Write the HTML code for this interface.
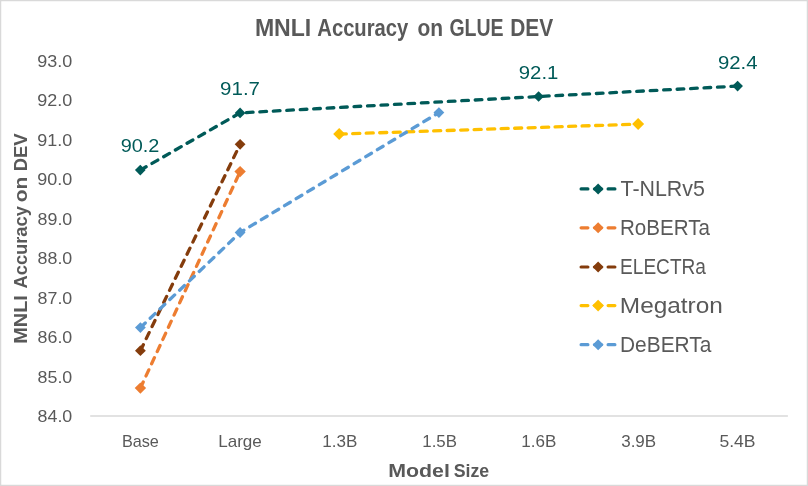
<!DOCTYPE html>
<html lang="en"><head><meta charset="utf-8"><title>MNLI Accuracy on GLUE DEV</title>
<style>
html,body{margin:0;padding:0;background:#fff;}
body{width:808px;height:486px;overflow:hidden;}
svg{display:block;}
text{font-family:"Liberation Sans",sans-serif;fill:#595959;}
.ax{font-size:17px;}
.tt{font-size:24.2px;font-weight:bold;}
.at{font-size:18.8px;font-weight:bold;}
.dl{font-size:19.2px;fill:#005A58;}
.lg{font-size:22.6px;}
</style></head><body>
<svg width="808" height="486" viewBox="0 0 808 486">
<rect x="0" y="0" width="808" height="486" fill="#fff"/>
<rect x="0.25" y="0.25" width="807.5" height="485.5" fill="none" stroke="#d9d9d9" stroke-width="2"/>
<line x1="90.2" y1="416.0" x2="787.9" y2="416.0" stroke="#d9d9d9" stroke-width="1.4"/>
<text x="254.9" y="35.7" class="tt" textLength="56.4" lengthAdjust="spacingAndGlyphs">MNLI</text>
<text x="317.3" y="35.7" class="tt" textLength="91.0" lengthAdjust="spacingAndGlyphs">Accuracy</text>
<text x="417.4" y="35.7" class="tt" textLength="25.6" lengthAdjust="spacingAndGlyphs">on</text>
<text x="449.4" y="35.7" class="tt" textLength="54.2" lengthAdjust="spacingAndGlyphs">GLUE</text>
<text x="510.2" y="35.7" class="tt" textLength="43.0" lengthAdjust="spacingAndGlyphs">DEV</text>
<text x="37.6" y="422.0" class="ax" textLength="34.7" lengthAdjust="spacingAndGlyphs">84.0</text>
<text x="37.6" y="382.5" class="ax" textLength="34.7" lengthAdjust="spacingAndGlyphs">85.0</text>
<text x="37.6" y="343.0" class="ax" textLength="34.7" lengthAdjust="spacingAndGlyphs">86.0</text>
<text x="37.6" y="303.5" class="ax" textLength="34.7" lengthAdjust="spacingAndGlyphs">87.0</text>
<text x="37.6" y="264.0" class="ax" textLength="34.7" lengthAdjust="spacingAndGlyphs">88.0</text>
<text x="37.6" y="224.5" class="ax" textLength="34.7" lengthAdjust="spacingAndGlyphs">89.0</text>
<text x="37.3" y="185.0" class="ax" textLength="35.0" lengthAdjust="spacingAndGlyphs">90.0</text>
<text x="37.3" y="145.5" class="ax" textLength="35.0" lengthAdjust="spacingAndGlyphs">91.0</text>
<text x="37.3" y="106.0" class="ax" textLength="35.0" lengthAdjust="spacingAndGlyphs">92.0</text>
<text x="37.3" y="66.5" class="ax" textLength="35.0" lengthAdjust="spacingAndGlyphs">93.0</text>
<text x="121.9" y="447.4" class="ax" textLength="37.0" lengthAdjust="spacingAndGlyphs">Base</text>
<text x="218.2" y="447.4" class="ax" textLength="43.6" lengthAdjust="spacingAndGlyphs">Large</text>
<text x="322.3" y="447.4" class="ax" textLength="35.1" lengthAdjust="spacingAndGlyphs">1.3B</text>
<text x="422.3" y="447.4" class="ax" textLength="34.7" lengthAdjust="spacingAndGlyphs">1.5B</text>
<text x="521.2" y="447.4" class="ax" textLength="35.1" lengthAdjust="spacingAndGlyphs">1.6B</text>
<text x="621.2" y="447.4" class="ax" textLength="35.0" lengthAdjust="spacingAndGlyphs">3.9B</text>
<text x="719.4" y="447.4" class="ax" textLength="36.1" lengthAdjust="spacingAndGlyphs">5.4B</text>
<text x="388.2" y="476.8" class="at" textLength="61.7" lengthAdjust="spacingAndGlyphs">Model</text>
<text x="453.7" y="476.8" class="at" textLength="35.5" lengthAdjust="spacingAndGlyphs">Size</text>
<text x="120.7" y="152.0" class="dl" textLength="38.7" lengthAdjust="spacingAndGlyphs">90.2</text>
<text x="220.1" y="95.1" class="dl" textLength="39.9" lengthAdjust="spacingAndGlyphs">91.7</text>
<text x="518.8" y="79.1" class="dl" textLength="39.6" lengthAdjust="spacingAndGlyphs">92.1</text>
<text x="718.0" y="68.9" class="dl" textLength="39.6" lengthAdjust="spacingAndGlyphs">92.4</text>
<text x="620.5" y="196.1" class="lg" textLength="84.4" lengthAdjust="spacingAndGlyphs">T-NLRv5</text>
<text x="620.0" y="235.0" class="lg" textLength="89.9" lengthAdjust="spacingAndGlyphs">RoBERTa</text>
<text x="620.1" y="274.2" class="lg" textLength="85.8" lengthAdjust="spacingAndGlyphs">ELECTRa</text>
<text x="619.8" y="312.8" class="lg" textLength="103.1" lengthAdjust="spacingAndGlyphs">Megatron</text>
<text x="620.0" y="351.8" class="lg" textLength="91.4" lengthAdjust="spacingAndGlyphs">DeBERTa</text>
<g transform="translate(27.0 342.4) rotate(-90)"><text x="-1.4" y="0" class="at" textLength="48.7" lengthAdjust="spacingAndGlyphs">MNLI</text></g>
<g transform="translate(27.0 342.4) rotate(-90)"><text x="53.9" y="0" class="at" textLength="82.4" lengthAdjust="spacingAndGlyphs">Accuracy</text></g>
<g transform="translate(27.0 342.4) rotate(-90)"><text x="140.1" y="0" class="at" textLength="25.6" lengthAdjust="spacingAndGlyphs">on</text></g>
<g transform="translate(27.0 342.4) rotate(-90)"><text x="171.2" y="0" class="at" textLength="37.8" lengthAdjust="spacingAndGlyphs">DEV</text></g>
<path d="M140.30 170.10L240.10 112.90L538.60 96.50L737.60 86.10" fill="none" stroke="#005A58" stroke-width="3.3" stroke-dasharray="6.7 6.78" stroke-linecap="round" stroke-linejoin="round"/>
<path d="M134.95 170.10L140.30 164.75L145.65 170.10L140.30 175.45Z" fill="#005A58"/>
<path d="M234.75 112.90L240.10 107.55L245.45 112.90L240.10 118.25Z" fill="#005A58"/>
<path d="M533.25 96.50L538.60 91.15L543.95 96.50L538.60 101.85Z" fill="#005A58"/>
<path d="M732.25 86.10L737.60 80.75L742.95 86.10L737.60 91.45Z" fill="#005A58"/>
<path d="M140.40 388.10L240.10 171.60" fill="none" stroke="#ED7D31" stroke-width="3.3" stroke-dasharray="6.7 6.7" stroke-linecap="round" stroke-linejoin="round"/>
<path d="M134.70 388.10L140.40 382.40L146.10 388.10L140.40 393.80Z" fill="#ED7D31"/>
<path d="M234.40 171.60L240.10 165.90L245.80 171.60L240.10 177.30Z" fill="#ED7D31"/>
<path d="M140.40 350.70L240.10 144.30" fill="none" stroke="#843C0C" stroke-width="3.3" stroke-dasharray="6.7 6.7" stroke-linecap="round" stroke-linejoin="round"/>
<path d="M135.00 350.70L140.40 345.30L145.80 350.70L140.40 356.10Z" fill="#843C0C"/>
<path d="M234.70 144.30L240.10 138.90L245.50 144.30L240.10 149.70Z" fill="#843C0C"/>
<path d="M339.20 134.10L638.10 124.10" fill="none" stroke="#FFC000" stroke-width="3.3" stroke-dasharray="7.1 6.4" stroke-linecap="round" stroke-linejoin="round"/>
<path d="M333.20 134.10L339.20 128.10L345.20 134.10L339.20 140.10Z" fill="#FFC000"/>
<path d="M632.10 124.10L638.10 118.10L644.10 124.10L638.10 130.10Z" fill="#FFC000"/>
<path d="M140.40 327.60L240.10 232.50L438.90 112.60" fill="none" stroke="#5B9BD5" stroke-width="3.3" stroke-dasharray="6.7 6.85" stroke-linecap="round" stroke-linejoin="round"/>
<path d="M135.00 327.60L140.40 322.20L145.80 327.60L140.40 333.00Z" fill="#5B9BD5"/>
<path d="M234.70 232.50L240.10 227.10L245.50 232.50L240.10 237.90Z" fill="#5B9BD5"/>
<path d="M433.50 112.60L438.90 107.20L444.30 112.60L438.90 118.00Z" fill="#5B9BD5"/>
<path d="M581.1 188.9L614.9 188.9" fill="none" stroke="#005A58" stroke-width="3.2" stroke-dasharray="6.8 6.7" stroke-linecap="round"/>
<path d="M592.60 188.90L598.10 183.40L603.60 188.90L598.10 194.40Z" fill="#005A58"/>
<path d="M581.1 227.8L614.9 227.8" fill="none" stroke="#ED7D31" stroke-width="3.2" stroke-dasharray="6.8 6.7" stroke-linecap="round"/>
<path d="M592.60 227.80L598.10 222.30L603.60 227.80L598.10 233.30Z" fill="#ED7D31"/>
<path d="M581.1 267.0L614.9 267.0" fill="none" stroke="#843C0C" stroke-width="3.2" stroke-dasharray="6.8 6.7" stroke-linecap="round"/>
<path d="M592.60 267.00L598.10 261.50L603.60 267.00L598.10 272.50Z" fill="#843C0C"/>
<path d="M581.1 305.55L614.9 305.55" fill="none" stroke="#FFC000" stroke-width="3.2" stroke-dasharray="6.8 6.7" stroke-linecap="round"/>
<path d="M592.20 305.55L598.10 299.65L604.00 305.55L598.10 311.45Z" fill="#FFC000"/>
<path d="M581.1 344.65L614.9 344.65" fill="none" stroke="#5B9BD5" stroke-width="3.2" stroke-dasharray="6.8 6.7" stroke-linecap="round"/>
<path d="M592.60 344.65L598.10 339.15L603.60 344.65L598.10 350.15Z" fill="#5B9BD5"/>
</svg></body></html>
